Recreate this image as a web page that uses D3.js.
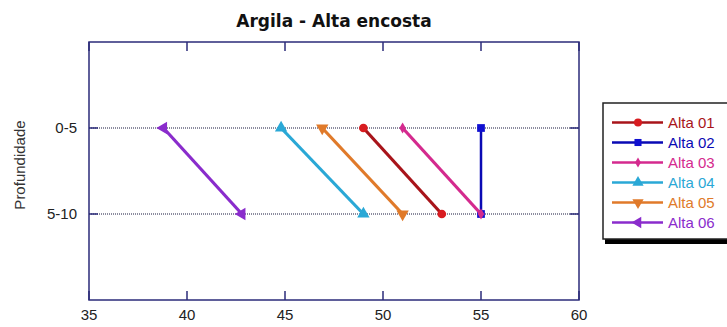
<!DOCTYPE html>
<html>
<head>
<meta charset="utf-8">
<script src="https://cdn.jsdelivr.net/npm/d3@7"></script>
<style>
  body { margin: 0; background: #fff; }
  svg { display: block; }
</style>
</head>
<body>
<div id="chart"></div>
<script>
// chart data
var depths = ["0-5", "5-10"];
var seriesNames = ["Alta 01", "Alta 02", "Alta 03", "Alta 04", "Alta 05", "Alta 06"];
var alta01 = [49.0, 53.0];
var alta02 = [55.0, 55.0];
var alta03 = [51.0, 55.0];
var alta04 = [44.8, 49.0];
var alta05 = [46.9, 51.0];
var alta06 = [38.8, 42.8];
var xTicks = [35, 40, 45, 50, 55, 60];

var seriesValues = [alta01, alta02, alta03, alta04, alta05, alta06];
var lineColors = ["#a8141a", "#0a0ab4", "#d42a8e", "#2aa8d6", "#e07a2a", "#8a2ccc"];
var markColors = ["#d81c20", "#1010d0", "#d42a8e", "#2aa8d6", "#e07a2a", "#8a2ccc"];
var markTypes = [d3.symbolCircle, d3.symbolSquare, d3.symbolDiamond, "up", "down", "left"];

var svgWidth = 727, svgHeight = 327;
var margin = { top: 42, left: 89, right: 148, bottom: 27 };
var width = svgWidth - margin.left - margin.right;
var height = svgHeight - margin.top - margin.bottom;

var svg = d3.select("#chart").append("svg")
    .attr("width", svgWidth)
    .attr("height", svgHeight);

var chartGroup = svg.append("g")
    .attr("transform", `translate(${margin.left}, ${margin.top})`);

var xScale = d3.scaleLinear().domain([35, 60]).range([0, width]);
var yScale = d3.scalePoint().domain(["", ...depths, " "]).range([0, height]);

var axisColor = "#2b2b7a";

// dotted grid lines at the depth levels
chartGroup.selectAll(".grid")
    .data(depths)
    .enter()
    .append("line")
    .attr("x1", 0)
    .attr("x2", width)
    .attr("y1", d => yScale(d))
    .attr("y2", d => yScale(d))
    .attr("stroke", "#1a1a40")
    .attr("stroke-width", 1.2)
    .attr("stroke-dasharray", "1,1");

// ticks inside the box, on all four sides
var tickLen = 9;
chartGroup.selectAll(".xtickB")
    .data(xTicks)
    .enter()
    .append("line")
    .attr("x1", d => xScale(d))
    .attr("x2", d => xScale(d))
    .attr("y1", height)
    .attr("y2", height - tickLen)
    .attr("stroke", axisColor)
    .attr("stroke-width", 1.5);
chartGroup.selectAll(".xtickT")
    .data(xTicks)
    .enter()
    .append("line")
    .attr("x1", d => xScale(d))
    .attr("x2", d => xScale(d))
    .attr("y1", 0)
    .attr("y2", tickLen)
    .attr("stroke", axisColor)
    .attr("stroke-width", 1.5);
chartGroup.selectAll(".ytickL")
    .data(depths)
    .enter()
    .append("line")
    .attr("x1", 0)
    .attr("x2", tickLen)
    .attr("y1", d => yScale(d))
    .attr("y2", d => yScale(d))
    .attr("stroke", axisColor)
    .attr("stroke-width", 1.5);
chartGroup.selectAll(".ytickR")
    .data(depths)
    .enter()
    .append("line")
    .attr("x1", width)
    .attr("x2", width - tickLen)
    .attr("y1", d => yScale(d))
    .attr("y2", d => yScale(d))
    .attr("stroke", axisColor)
    .attr("stroke-width", 1.5);

// box
chartGroup.append("rect")
    .attr("width", width)
    .attr("height", height)
    .attr("fill", "none")
    .attr("stroke", axisColor)
    .attr("stroke-width", 1.5);

// tick labels
chartGroup.selectAll(".xlabel")
    .data(xTicks)
    .enter()
    .append("text")
    .attr("x", d => xScale(d))
    .attr("y", height + 20)
    .attr("text-anchor", "middle")
    .style("font-family", "Liberation Sans, Arial, sans-serif")
    .style("font-size", "15px")
    .attr("fill", "#222")
    .text(d => d);

chartGroup.selectAll(".ylabel")
    .data(depths)
    .enter()
    .append("text")
    .attr("x", -12)
    .attr("y", d => yScale(d) + 5)
    .attr("text-anchor", "end")
    .style("font-family", "Liberation Sans, Arial, sans-serif")
    .style("font-size", "15px")
    .attr("fill", "#222")
    .text(d => d);

// title and axis title
svg.append("text")
    .attr("x", margin.left + width / 2)
    .attr("y", 27)
    .attr("text-anchor", "middle")
    .style("font-family", "DejaVu Sans, sans-serif")
    .style("font-weight", "bold")
    .style("font-size", "17px")
    .attr("fill", "#111")
    .text("Argila - Alta encosta");

svg.append("text")
    .attr("transform", "translate(25, 165) rotate(-90)")
    .attr("text-anchor", "middle")
    .style("font-family", "Liberation Sans, Arial, sans-serif")
    .style("font-size", "15px")
    .attr("fill", "#333")
    .text("Profundidade");

// marker drawing helper
function marker(sel, type, color, size) {
    if (type === "up" || type === "down" || type === "left") {
        var rot = type === "up" ? 0 : (type === "down" ? 180 : -90);
        sel.append("path")
            .attr("d", d3.symbol().type(d3.symbolTriangle).size(size * 1.1)())
            .attr("transform", `rotate(${rot})`)
            .attr("fill", color);
    } else {
        sel.append("path")
            .attr("d", d3.symbol().type(type).size(type === d3.symbolDiamond ? size * 0.6 : size)())
            .attr("fill", color);
    }
}

// series lines and markers
var line = d3.line()
    .x(d => xScale(d.value))
    .y(d => yScale(d.depth));

seriesValues.forEach(function (vals, i) {
    var pts = vals.map((v, j) => ({ value: v, depth: depths[j] }));
    chartGroup.append("path")
        .datum(pts)
        .attr("d", line)
        .attr("fill", "none")
        .attr("stroke", lineColors[i])
        .attr("stroke-width", i === 1 ? 2.5 : 3.2);

    pts.forEach(function (p) {
        var g = chartGroup.append("g")
            .attr("transform", `translate(${xScale(p.value)}, ${yScale(p.depth)})`);
        marker(g, markTypes[i], markColors[i], 60);
    });
});

// legend
var legend = svg.append("g").attr("transform", "translate(603, 103)");
legend.append("rect")
    .attr("x", 2)
    .attr("y", 3)
    .attr("width", 140)
    .attr("height", 138)
    .attr("fill", "#000");
legend.append("rect")
    .attr("width", 140)
    .attr("height", 136)
    .attr("fill", "#fff")
    .attr("stroke", "#222")
    .attr("stroke-width", 1.5);

seriesNames.forEach(function (name, i) {
    var y = 19.5 + i * 20;
    legend.append("line")
        .attr("x1", 9)
        .attr("x2", 60)
        .attr("y1", y)
        .attr("y2", y)
        .attr("stroke", lineColors[i])
        .attr("stroke-width", 2.5);
    var g = legend.append("g").attr("transform", `translate(35, ${y})`);
    marker(g, markTypes[i], markColors[i], 50);
    legend.append("text")
        .attr("x", 65)
        .attr("y", y + 5)
        .style("font-family", "Liberation Sans, Arial, sans-serif")
        .style("font-size", "15px")
        .attr("fill", lineColors[i])
        .text(name);
});
</script>
</body>
</html>
